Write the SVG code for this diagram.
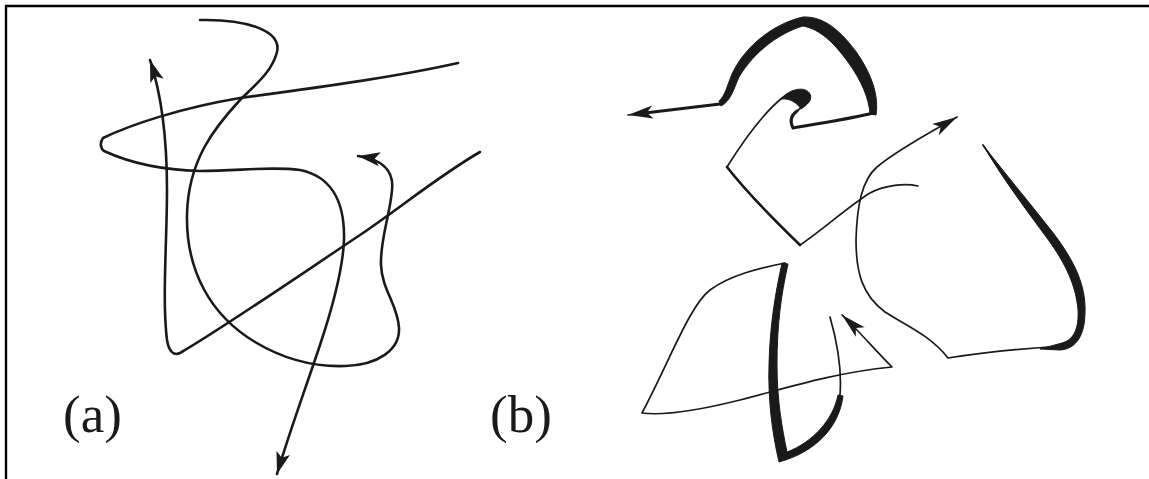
<svg xmlns="http://www.w3.org/2000/svg" width="1149" height="479" viewBox="0 0 1149 479">
<style>
.frame{stroke:#000;stroke-width:2.4;fill:none}
.ca{fill:none;stroke:#1a1a1a;stroke-width:2.6;stroke-linecap:round;stroke-linejoin:round}
.cb{fill:none;stroke:#1a1a1a;stroke-width:1.7;stroke-linecap:round;stroke-linejoin:round}
.thick{fill:#1a1a1a;stroke:#1a1a1a;stroke-width:1;stroke-linejoin:round}
.lbl{font-family:"Liberation Serif","Times New Roman",serif;font-size:53px;fill:#1a1a1a}
</style>
<defs>
<marker id="ah" markerUnits="userSpaceOnUse" markerWidth="26" markerHeight="18" refX="22" refY="8" orient="auto-start-reverse">
<path d="M0,1 L22,8 L0,15 L5,8 Z" fill="#1a1a1a"/>
</marker>
<marker id="ahb" markerUnits="userSpaceOnUse" markerWidth="28" markerHeight="18" refX="25" refY="8" orient="auto-start-reverse">
<path d="M0,1.5 L25,8 L0,14.5 L6,8 Z" fill="#1a1a1a"/>
</marker>
</defs>
<rect width="1149" height="479" fill="#fff"/>
<path class="frame" d="M6,479 L6,6 L1149,6"/>
<g id="panel-a">
<path id="a1" class="ca" marker-end="url(#ah)" d="M200,20 C245,19 282,30 277,52 C272,72 255,85 240,100 C215,127 188,160 187,215 C186,270 210,315 255,342 C285,360 315,367 345,366 C378,365 400,350 399,328 C398,305 382,290 381,265 C380,240 390,215 392,190 C394,172 385,160 358,156"/>
<path id="a2" class="ca" marker-start="url(#ah)" d="M150,60 C160,90 167,130 167,190 C167,240 162,300 167,340 C169,352 174,356 180,353 C220,330 300,275 360,235 C400,208 440,175 480,152"/>
<path id="a3" class="ca" marker-end="url(#ah)" d="M458,63 C400,76 330,86 240,98 C180,108 130,125 103,138 C100,142 100,148 104,151 C130,163 160,170 200,171 C240,171 270,166 300,170 C330,176 345,200 344,240 C343,265 335,300 320,345 C305,390 290,430 277,474"/>
<text class="lbl" x="63" y="432">(a)</text>
</g>
<g id="panel-b">
<path id="b1" class="cb" marker-start="url(#ahb)" d="M628,115 L720,104 C728,100 730,85 736,72 C750,45 778,28 803,22 C822,20 838,35 852,55 C866,75 873,95 873,113 C855,118 815,124 793,128 C790,122 790,116 797,111 C806,104 811,99 806,94 C800,90 790,92 782,98 C765,112 745,138 727,167 C745,190 772,218 800,245 C820,232 850,205 870,193 C885,185 905,183 918,186"/>
<path class="cb" style="stroke-width:3.2" d="M645,113 L720,104"/>
<path class="cb" style="stroke-width:3" d="M873,113 C855,118 815,124 793,128 C790,122 790,116 797,111"/>
<path class="cb" style="stroke-width:2.6" d="M727,167 C745,190 772,218 800,245"/>
<path class="thick" d="M719,101 C725,96 727,86 732,74 C746,44 776,23 803,17 C826,16 843,34 857,53 C872,75 879,96 876,115 L870,114 C869,98 861,80 848,62 C834,43 820,29 803,26 C782,32 755,50 739,77 C734,88 731,101 721,106 Z"/>
<path class="thick" d="M781,99 C790,88 806,86 810,94 C813,100 807,105 801,109 C797,103 790,98 781,99 Z"/>
<path id="b2" class="cb" marker-start="url(#ahb)" d="M957,117 C935,130 900,148 877,167 C862,180 857,205 856,240 C856,272 862,295 885,312 C905,325 930,335 948,358 C980,353 1030,348 1062,346 C1078,342 1084,330 1082,310 C1080,285 1070,262 1050,235 C1030,208 1000,170 983,145"/>
<path class="thick" d="M983,145 C1003,171 1033,207 1054,234 C1075,262 1086,286 1085,312 C1085,334 1077,349 1060,350 L1040,349 L1062,343 C1074,340 1079,328 1078,310 C1076,286 1066,264 1047,238 C1027,211 1001,176 983,145 Z"/>
<path id="b3" class="cb" marker-end="url(#ahb)" d="M830,317 C838,345 842,370 840,395 C838,420 820,445 782,458 C774,430 768,400 770,365 C771,320 777,290 785,263 C760,268 730,275 710,290 C690,305 670,360 642,413 C665,416 700,410 740,400 C780,390 830,373 892,367 C875,350 858,330 842,315"/>
<path class="thick" d="M782,263 C775,295 770,325 769,365 C768,400 772,432 779,462 C815,452 839,428 843,396 L838,395 C833,420 813,442 787,452 C782,428 777,400 777,365 C777,325 781,295 788,264 Z"/>
<text class="lbl" x="490" y="432">(b)</text>
</g>
</svg>
